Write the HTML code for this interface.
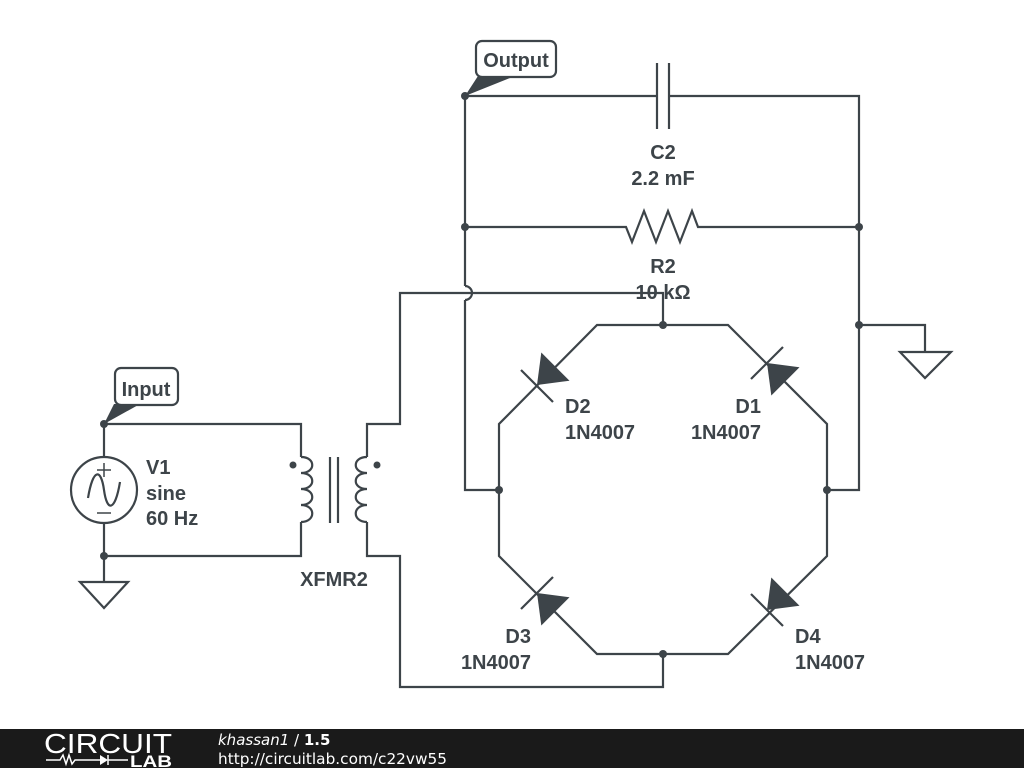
<!DOCTYPE html>
<html><head><meta charset="utf-8"><style>
html,body{margin:0;padding:0;background:#fff;width:1024px;height:768px;overflow:hidden}
svg{display:block}
text{font-family:"Liberation Sans",Arial,sans-serif;font-weight:bold;fill:#3d4449}
</style></head><body>
<svg width="1024" height="768" viewBox="0 0 1024 768">
<g stroke="#3d4449" stroke-width="2.2" fill="none">
<polyline points="465,96 657,96"/>
<line x1="657" y1="63" x2="657" y2="129"/>
<line x1="669" y1="63" x2="669" y2="129"/>
<polyline points="669,96 859,96 859,490 827,490"/>
<polyline points="465,227 626,227 632,242 644,211 656,242 668,211 680,242 692,211 698,227 859,227"/>
<polyline points="465,96 465,286"/>
<path d="M465,286 A7,7 0 0 1 465,300"/>
<polyline points="465,300 465,490 499,490"/>
<polyline points="859,325 925,325 925,352"/>
<polygon points="900,352 951,352 925,378"/>
<polygon points="597,325 728,325 827,424 827,556 728,654 597,654 499,556 499,424"/>
<polyline points="663,325 663,293 400,293 400,424 367,424 367,457"/>
<polyline points="367,522 367,556 400,556 400,687 663,687 663,654"/>
<path d="M367,457 C352,457 352,473 367,473 C352,473 352,489 367,489 C352,489 352,505 367,505 C352,505 352,522 367,522"/>
<polyline points="104,424 301,424 301,457"/>
<path d="M301,457 C316,457 316,473 301,473 C316,473 316,489 301,489 C316,489 316,505 301,505 C316,505 316,522 301,522"/>
<polyline points="301,522 301,556 104,556"/>
<line x1="330" y1="457" x2="330" y2="523"/>
<line x1="338" y1="457" x2="338" y2="523"/>
<line x1="104" y1="424" x2="104" y2="457"/>
<circle cx="104" cy="490" r="33"/>
<line x1="104" y1="523" x2="104" y2="582"/>
<path d="M88,498 C93,468 101,468 104,490 C107,512 115,512 120,482"/>
<line x1="104" y1="463" x2="104" y2="477" stroke-width="1.5"/>
<line x1="97" y1="470" x2="111" y2="470" stroke-width="1.5"/>
<line x1="97" y1="513" x2="111" y2="513" stroke-width="1.5"/>
<polygon points="80,582 128,582 104,608"/>
<line x1="521" y1="370" x2="553" y2="402"/>
<line x1="751" y1="379" x2="783" y2="347"/>
<line x1="521" y1="609" x2="553" y2="577"/>
<line x1="751" y1="594" x2="783" y2="626"/>
</g>
<g fill="#3d4449">
<polygon points="537,385 569.5,380.7 541.3,352.5"/>
<polygon points="767,363 799.5,367.3 771.3,395.5"/>
<polygon points="537,593 569.5,597.3 541.3,625.5"/>
<polygon points="767,610 799.5,605.7 771.3,577.5"/>
<circle cx="465" cy="96" r="4"/><circle cx="465" cy="227" r="4"/><circle cx="859" cy="227" r="4"/>
<circle cx="859" cy="325" r="4"/><circle cx="663" cy="325" r="4"/><circle cx="663" cy="654" r="4"/>
<circle cx="499" cy="490" r="4"/><circle cx="827" cy="490" r="4"/>
<circle cx="104" cy="424" r="4"/><circle cx="104" cy="556" r="4"/>
<circle cx="293" cy="465" r="3.5"/><circle cx="377" cy="465" r="3.5"/>
<polygon points="465,96 478,76 510,78"/>
<polygon points="104,424 114,404 140,404"/>
</g>
<rect x="476" y="41" width="80" height="36" rx="6" fill="#fff" stroke="#3d4449" stroke-width="2.2"/>
<text x="516" y="67" font-size="20" text-anchor="middle">Output</text>
<rect x="115" y="368" width="63" height="37" rx="6" fill="#fff" stroke="#3d4449" stroke-width="2.2"/>
<text x="146" y="396" font-size="20" text-anchor="middle">Input</text>
<g font-size="20">
<text x="663" y="159" text-anchor="middle">C2</text>
<text x="663" y="185" text-anchor="middle">2.2 mF</text>
<text x="663" y="273" text-anchor="middle">R2</text>
<text x="663" y="299" text-anchor="middle">10 kΩ</text>
<text x="565" y="413">D2</text>
<text x="565" y="439">1N4007</text>
<text x="761" y="413" text-anchor="end">D1</text>
<text x="761" y="439" text-anchor="end">1N4007</text>
<text x="531" y="643" text-anchor="end">D3</text>
<text x="531" y="669" text-anchor="end">1N4007</text>
<text x="795" y="643">D4</text>
<text x="795" y="669">1N4007</text>
<text x="146" y="474">V1</text>
<text x="146" y="500">sine</text>
<text x="146" y="525">60 Hz</text>
<text x="334" y="586" text-anchor="middle">XFMR2</text>
</g>
<rect x="0" y="729" width="1024" height="39" fill="#1a1a1a"/>
<text x="44" y="753" font-size="28" textLength="128" lengthAdjust="spacingAndGlyphs" style="font-weight:normal;fill:#fff">CIRCUIT</text>
<text x="130" y="767" font-size="17" textLength="42" lengthAdjust="spacingAndGlyphs" style="fill:#fff">LAB</text>
<polyline points="46,760 60,760 63,755 66,764 69,755 72,764 75,760 100,760" stroke="#fff" stroke-width="1.5" fill="none"/>
<polygon points="100,755 108,760 100,765" fill="#fff"/>
<line x1="108" y1="755" x2="108" y2="765" stroke="#fff" stroke-width="1.5"/>
<line x1="108" y1="760" x2="128" y2="760" stroke="#fff" stroke-width="1.5"/>
<text x="218" y="745" font-size="15" style="fill:#fff;font-weight:normal;font-style:italic;font-family:'DejaVu Sans',sans-serif">khassan1 <tspan style="font-style:normal">/</tspan> <tspan style="font-style:normal;font-weight:bold">1.5</tspan></text>
<text x="218" y="764" font-size="15" textLength="229" lengthAdjust="spacingAndGlyphs" style="fill:#fff;font-weight:normal;font-family:'DejaVu Sans',sans-serif">http://circuitlab.com/c22vw55</text>
</svg>
</body></html>
